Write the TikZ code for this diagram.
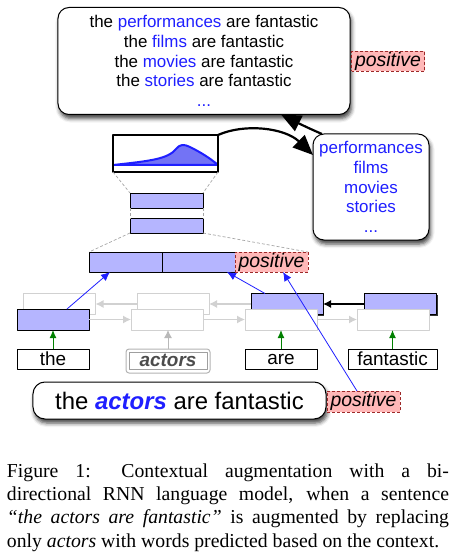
\documentclass[tikz,border=0pt]{standalone}
\usepackage{fontspec}
\setmainfont{Liberation Serif}
\setsansfont{Liberation Sans}
\usetikzlibrary{arrows.meta,shadows,shadows.blur}
\definecolor{wordblue}{rgb}{0.12,0.12,1.0}
\definecolor{vecfill}{rgb}{0.71,0.71,1.0}
\definecolor{labfill}{rgb}{1.0,0.72,0.72}
\definecolor{labdraw}{rgb}{0.62,0.16,0.16}
\definecolor{fadegray}{rgb}{0.82,0.82,0.82}
\definecolor{arrgreen}{rgb}{0.0,0.5,0.0}
\definecolor{distfill}{rgb}{0.45,0.45,0.96}
\begin{document}
\begin{tikzpicture}[>=latex,line join=bevel,x=1bp,y=-1bp,
  every node/.style={inner sep=0pt,outer sep=0pt,font=\sffamily},
  bubble/.style={draw=black,fill=white,line width=1bp,rounded corners=11bp,
    blur shadow={shadow xshift=1.5bp,shadow yshift=-4bp,shadow blur radius=4bp,shadow opacity=75}},
  senlab/.style={draw=labdraw,fill=labfill,densely dashed,line width=0.8bp,
    minimum width=73bp,minimum height=20bp,font=\sffamily\itshape\fontsize{19.5}{20}\selectfont},
  hotbox/.style={draw=black,fill=vecfill,line width=0.8bp,minimum width=72bp,minimum height=21bp},
  fadebox/.style={draw=fadegray,fill=white,line width=1bp,minimum width=72bp,minimum height=21bp},
  hotback/.style={hotbox,drop shadow={shadow xshift=1.3bp,shadow yshift=-1.3bp,fill=black!80,opacity=1}},
  hidvec/.style={draw=black,fill=vecfill,line width=0.8bp,minimum width=73bp,minimum height=15bp},
  catvec/.style={draw=black,fill=vecfill,line width=0.8bp,minimum width=73bp,minimum height=20bp},
  wordbox/.style={draw=black,fill=white,line width=0.8bp,minimum width=72bp,minimum height=20bp,
    font=\sffamily\fontsize{19}{19}\selectfont},
  seqarr/.style={draw=fadegray,line width=1.2bp,-{Latex[length=8bp,width=8bp]}},
  inarr/.style={draw=arrgreen,line width=1bp,-{Latex[length=8bp,width=7bp]}},
  attarr/.style={draw=wordblue,line width=0.8bp,-{Latex[length=9bp,width=8bp]}},
  bigarr/.style={draw=black,line width=2.2bp,-{Triangle[length=20bp,width=17bp]}},
  zoomline/.style={draw=gray!70,densely dashed,line width=0.7bp},
]
\useasboundingbox (0,0) rectangle (456,558);
%%
  % Node: topbox
  \node[bubble,minimum width=292bp,minimum height=107bp,align=center,
    font=\sffamily\fontsize{17}{19.8}\selectfont] (topbox) at (204,61)
    {the \textcolor{wordblue}{performances} are fantastic\\
     the \textcolor{wordblue}{films} are fantastic\\
     the \textcolor{wordblue}{movies} are fantastic\\
     the \textcolor{wordblue}{stories} are fantastic\\
     \textcolor{wordblue}{...}};
  \node[senlab] (postop) at (388,61.5) {positive};
  % Node: candbox
  \node[bubble,minimum width=116bp,minimum height=106bp,align=center,text=wordblue,
    font=\sffamily\fontsize{17}{19.7}\selectfont] (candbox) at (371,187)
    {performances\\ films\\ movies\\ stories\\ ...};
  % Node: distbox
  \filldraw[draw=wordblue,fill=distfill,line width=2bp,line join=round]
    (113,165) .. controls (150,161) and (168,159) .. (176,149)
    .. controls (180,144) and (184,144) .. (190,147)
    .. controls (200,152) and (210,158) .. (218,165) -- cycle;
  \node[draw=black,line width=2bp,minimum width=105bp,minimum height=37bp] (distbox) at (165.5,153.5) {};
  % Node: hid2, hid1
  \node[hidvec] (hid2) at (166.5,200.5) {};
  \node[hidvec] (hid1) at (166.5,225.5) {};
  % Node: cat1, cat2, posmid
  \node[catvec] (cat1) at (125.5,262) {};
  \node[catvec] (cat2) at (198.5,262) {};
  \node[senlab] (posmid) at (271.5,262) {positive};
  % Node: backward states
  \node[fadebox] (bw1) at (59.5,304) {};
  \node[fadebox] (bw2) at (173,304) {};
  \node[hotback] (bw3) at (287,304) {};
  \node[hotback] (bw4) at (400.5,304) {};
  % Node: forward states
  \node[hotbox] (fw1) at (53,319.5) {};
  \node[fadebox] (fw2) at (167,319.5) {};
  \node[fadebox] (fw3) at (281,319.5) {};
  \node[fadebox] (fw4) at (393,319.5) {};
  % Node: words
  \node[wordbox] (w1) at (53,359) {the};
  \node[draw=fadegray!85!black,line width=1bp,rounded corners=3bp,
    minimum width=84bp,minimum height=24bp] (w2frame) at (168,361) {};
  \node[draw=gray!75,line width=0.8bp,minimum width=78bp,minimum height=17bp,text=black!70,
    font=\sffamily\bfseries\itshape\fontsize{19}{19}\selectfont] (w2) at (168,360.5) {actors};
  \node[wordbox] (w3) at (281,359) {are};
  \node[wordbox,minimum width=89bp] (w4) at (392.5,359) {fantastic};
  % Node: sentbox
  \node[bubble,rounded corners=12bp,minimum width=293bp,minimum height=37bp,
    font=\sffamily\fontsize{24}{24}\selectfont] (sentbox) at (179.5,400.5)
    {the \textcolor{wordblue}{\bfseries\itshape actors} are fantastic};
  \node[senlab,minimum height=21bp] (posbot) at (363.5,401.5) {positive};
  % Edge: zoom lines
  \draw[zoomline] (distbox.south west) -- (hid2.north west);
  \draw[zoomline] (distbox.south east) -- (hid2.north east);
  \draw[zoomline] (hid2.south west) -- (hid1.north west);
  \draw[zoomline] (hid2.south east) -- (hid1.north east);
  \draw[zoomline] (hid1.south west) -- (cat1.north west);
  \draw[zoomline] (hid1.south east) -- (posmid.north east);
  % Edge: fw -> fw, bw -> bw
  \draw[seqarr] (fw1.east) -- (fw2.west);
  \draw[seqarr] (fw2.east) -- (fw3.west);
  \draw[seqarr] (fw3.east) -- (fw4.west);
  \draw[seqarr] (bw2.west) -- (bw1.east);
  \draw[seqarr] (bw3.west) -- (bw2.east);
  \draw[seqarr,draw=black] (bw4.west) -- (bw3.east);
  % Edge: words -> fw
  \draw[inarr] (w1.north) -- (fw1.south);
  \draw[seqarr,draw=gray!55,line width=1bp] (w2frame.north) -- (w2frame.north |- fw2.south);
  \draw[inarr] (w3.north) -- (fw3.south);
  \draw[inarr] (w4.north) -- (w4.north |- fw4.south);
  % Edge: states -> concat
  \draw[attarr] ([xshift=14bp]fw1.north) -- ([xshift=-15.5bp]cat1.south);
  \draw[attarr] ([xshift=-22bp]bw3.north) -- ([xshift=28.5bp]cat2.south);
  \draw[attarr] ([xshift=-6.5bp]posbot.north) -- ([xshift=11.5bp]posmid.south);
  % Edge: distbox -> candbox -> topbox
  \draw[bigarr] (distbox.north east) .. controls (245,123) and (285,128) .. (candbox.west |- 0,155);
  \draw[bigarr] ([xshift=9bp]candbox.north west) .. controls (308,128) and (296,122) .. ([xshift=77bp]topbox.south);
  % Node: caption
  \node[anchor=north,text width=442bp,align=justify,
    font=\rmfamily\fontsize{19.8}{23.4}\selectfont] (caption) at (228,463.5)
    {Figure 1: Contextual augmentation with a bi-\linebreak
     directional RNN language model, when a sentence\linebreak
     \textit{``the actors are fantastic''} is augmented by replacing\linebreak
     only \textit{actors} with words predicted based on the context.};
%
\end{tikzpicture}
\end{document}
